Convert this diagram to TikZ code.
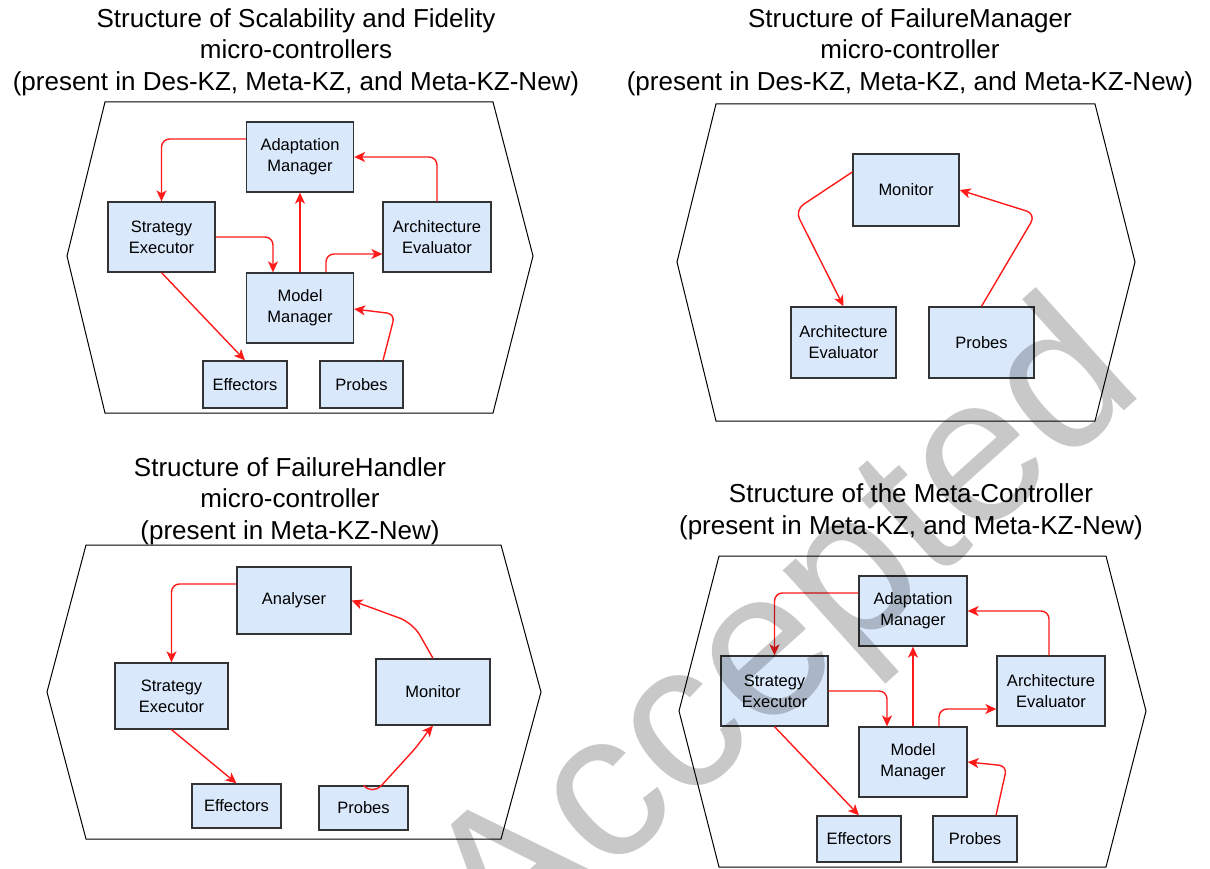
\documentclass[tikz,border=0pt]{standalone}
\usepackage{fontspec}
\setmainfont{Liberation Sans}
\usetikzlibrary{arrows.meta}
\definecolor{boxfill}{HTML}{DAE8FC}
\definecolor{boxline}{HTML}{333333}
\definecolor{arrred}{HTML}{FF1A1A}
\definecolor{wmgray}{RGB}{200,200,200}
\tikzset{
  box/.style={draw=boxline, fill=boxfill, line width=1.3pt, align=center,
    font=\fontsize{16.5}{21}\selectfont, inner sep=0pt},
  arr/.style={draw=arrred, line width=1.4pt,
    -{Stealth[length=11pt,width=10pt,inset=3pt]}, rounded corners=8pt},
  hexa/.style={draw=black, line width=1pt},
  ttl/.style={align=center, font=\fontsize{26}{31.5}\selectfont, inner sep=0pt},
}
\newcommand\bxnode[6]{\node[box, minimum width=#4pt, minimum height=#5pt] (#1) at (#2,#3) {#6};}
\begin{document}
\begin{tikzpicture}[x=1pt,y=-1pt]
\useasboundingbox (0,0) rectangle (1210,869);

% ---------- titles
\node[ttl] (T1) at (296,52) {Structure of Scalability and Fidelity\\micro-controllers\\(present in Des-KZ, Meta-KZ, and Meta-KZ-New)};
\node[ttl] (T2) at (910,52) {Structure of FailureManager\\micro-controller\\(present in Des-KZ, Meta-KZ, and Meta-KZ-New)};
\node[ttl] (T3) at (290,501) {Structure of FailureHandler\\micro-controller\\(present in Meta-KZ-New)};
\node[ttl] (T4) at (911,512) {Structure of the Meta-Controller\\(present in Meta-KZ, and Meta-KZ-New)};

% ---------- hexagons
\draw[hexa] (105,102) -- (493,102) -- (533,256) -- (493,413) -- (105,413) -- (67,256) -- cycle;
\draw[hexa] (716,104) -- (1095,104) -- (1135,262) -- (1095,421) -- (716,421) -- (677,262) -- cycle;
\draw[hexa] (86,545) -- (501,545) -- (541,692) -- (501,839) -- (86,839) -- (47,692) -- cycle;
\draw[hexa] (719,556) -- (1106,556) -- (1146,711) -- (1106,867) -- (719,867) -- (679,711) -- cycle;

% ---------- panel 1
\bxnode{AM1}{300}{157}{107}{70}{Adaptation\\Manager}
\bxnode{SE1}{161.5}{237}{107}{70}{Strategy\\Executor}
\bxnode{AE1}{437}{237}{108}{70}{Architecture\\Evaluator}
\bxnode{MM1}{300}{308}{107}{70}{Model\\Manager}
\bxnode{EF1}{245}{384.5}{84}{47}{Effectors}
\bxnode{PR1}{361.5}{384.5}{83}{47}{Probes}
\draw[arr] ([yshift=18pt]AM1.west) -| (SE1.north);
\draw[arr] (AE1.north) |- (AM1.east);
\draw[arr] (SE1.east) -| ([xshift=-27pt]MM1.north);
\draw[arr] (MM1.north) -- (AM1.south);
\draw[arr] ([xshift=26pt]MM1.north) |- ([yshift=-17pt]AE1.west);
\draw[arr] (SE1.south) -- (EF1.north);
\draw[arr] ([xshift=21.5pt]PR1.north) -- (395,314) -- ([yshift=-1pt]MM1.east);

% ---------- panel 2
\bxnode{MO2}{906}{190}{106}{72}{Monitor}
\bxnode{AE2}{843.5}{342.5}{105}{71}{Architecture\\Evaluator}
\bxnode{PR2}{981.5}{342.5}{105}{71}{Probes}
\draw[arr, rounded corners=10pt] ([yshift=18pt]MO2.west) -- (795,210) -- (AE2.north);
\draw[arr, rounded corners=10pt] (PR2.north) -- (1036,214) -- (MO2.east);

% ---------- panel 3
\bxnode{AN3}{294}{600.5}{114}{67}{Analyser}
\bxnode{SE3}{171.5}{696}{113}{66}{Strategy\\Executor}
\bxnode{MO3}{433}{692}{114}{66}{Monitor}
\bxnode{EF3}{236.5}{806}{89}{44}{Effectors}
\bxnode{PR3}{363.5}{808}{89}{44}{Probes}
\draw[arr] ([yshift=16.5pt]AN3.west) -| (SE3.north);
\draw[arr, rounded corners=14pt] (MO3.north) -- (413,623) -- (AN3.east);
\draw[arr] (SE3.south) -- (EF3.north);
\draw[arr, sharp corners] (PR3.north) .. controls (369,791) and (375,791) .. (381,786) -- (412,752) .. controls (420,743) and (425,735) .. (MO3.south);

% ---------- panel 4
\bxnode{AM4}{913}{611}{108}{70}{Adaptation\\Manager}
\bxnode{SE4}{774.5}{691}{107}{70}{Strategy\\Executor}
\bxnode{AE4}{1051}{691}{108}{70}{Architecture\\Evaluator}
\bxnode{MM4}{913}{762}{108}{70}{Model\\Manager}
\bxnode{EF4}{859}{839}{84}{46}{Effectors}
\bxnode{PR4}{975}{839}{84}{46}{Probes}
\draw[arr] ([yshift=18pt]AM4.west) -| (SE4.north);
\draw[arr] ([xshift=-2pt]AE4.north) |- (AM4.east);
\draw[arr] (SE4.east) -| ([xshift=-26pt]MM4.north);
\draw[arr] (MM4.north) -- (AM4.south);
\draw[arr] ([xshift=26pt]MM4.north) |- ([yshift=-18pt]AE4.west);
\draw[arr] (SE4.south) -- (EF4.north);
\draw[arr] ([xshift=21pt]PR4.north) -- (1007,766) -- (MM4.east);

% ---------- watermark
\begin{scope}[blend mode=multiply]
\clip (0,0) rectangle (1210,869);
\node[rotate=42, anchor=base east, inner sep=0pt, text=wmgray,
  font=\fontsize{208}{208}\selectfont] (wm) at (1148,390) {Accepted};
\end{scope}
\end{tikzpicture}
\end{document}
